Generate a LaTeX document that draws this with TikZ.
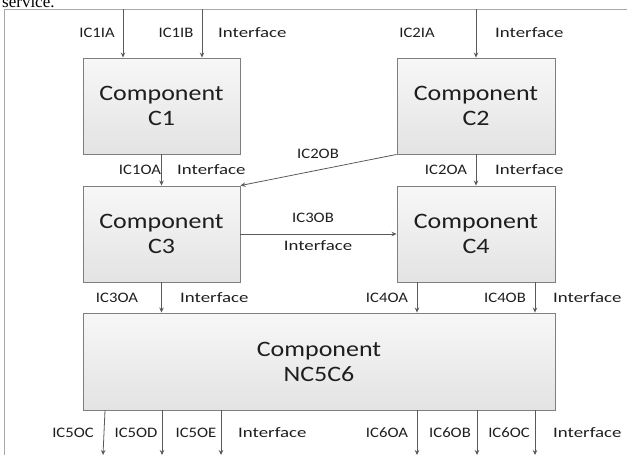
\documentclass[tikz,border=0pt]{standalone}
\usepackage{fontspec}
\setmainfont{Carlito}
\newfontfamily\portfont{Carlito}[FakeStretch=1.15]
\newfontfamily\ifacefont{Carlito}[FakeStretch=1.3]
\newfontfamily\compfont{Carlito}[FakeStretch=1.18]
\newfontfamily\bodyserif{Liberation Serif}
\usetikzlibrary{arrows.meta}
\definecolor{boxline}{HTML}{7F7F7F}
\definecolor{boxtop}{HTML}{F7F7F7}
\definecolor{boxbot}{HTML}{E3E3E3}
\definecolor{arrowc}{HTML}{5A5A5A}
\definecolor{framec}{HTML}{A8A8A8}
\definecolor{txt}{HTML}{1E1E1E}
\begin{document}
\begin{tikzpicture}[x=1pt,y=-1pt,
  comp/.style={draw=boxline, line width=0.9pt, top color=boxtop, bottom color=boxbot,
    minimum width=157pt, minimum height=96pt, inner sep=0pt, align=center,
    font=\compfont\fontsize{22}{25}\selectfont, text=txt},
  port/.style={font=\portfont\fontsize{14.5}{16}\selectfont, text=txt, inner sep=0pt},
  iface/.style={font=\ifacefont\fontsize{14.5}{16}\selectfont, text=txt, inner sep=0pt, anchor=west},
  flow/.style={draw=arrowc, line width=0.8pt, -{Stealth[length=5pt,width=4.5pt]}}
]
\useasboundingbox (0,0) rectangle (627,455);
\clip (0,0) rectangle (627,455);

% surrounding page text and frame
\node[font=\bodyserif\fontsize{17}{20}\selectfont, anchor=base west, inner sep=0pt] (svc) at (2,7) {service.};
\draw[framec, line width=0.9pt] (4,9) rectangle (660,490);

% components
\node[comp] (C1) at (161.5,106) {Component\\C1};
\node[comp, minimum width=158pt] (C2) at (476,106) {Component\\C2};
\node[comp] (C3) at (161.5,234) {Component\\C3};
\node[comp, minimum width=158pt] (C4) at (476,234) {Component\\C4};
\node[comp, minimum width=472pt, minimum height=97pt] (N) at (319,361.5) {Component\\NC5C6};

% inputs from the frame
\coordinate (t1a) at (123,9);
\coordinate (t1b) at (202,9);
\coordinate (t2a) at (476,9);
\draw[flow] (t1a) -- (C1.north -| t1a);
\draw[flow] (t1b) -- (C1.north -| t1b);
\draw[flow] (t2a) -- (C2.north -| t2a);

% links between components
\draw[flow] (C1.south) -- (C3.north);
\draw[flow] (C2.south) -- (C4.north);
\draw[flow] (C2.south west) -- (C3.north east);
\draw[flow] (C3.east) -- (C4.west);
\draw[flow] (C3.south) -- (N.north -| C3.south);
\coordinate (c4a) at ([xshift=-59pt]C4.south);
\coordinate (c4b) at ([xshift=59pt]C4.south);
\draw[flow] (c4a) -- (N.north -| c4a);
\draw[flow] (c4b) -- (N.north -| c4b);

% outputs
\coordinate (s5c) at (105,0);
\coordinate (e5c) at (103,455);
\coordinate (e5d) at (162,455);
\coordinate (e5e) at (221,455);
\coordinate (e6a) at (417,455);
\coordinate (e6b) at (477,455);
\coordinate (e6c) at (535,455);
\draw[flow] (N.south -| s5c) -- (e5c);
\draw[flow] (N.south -| e5d) -- (e5d);
\draw[flow] (N.south -| e5e) -- (e5e);
\draw[flow] (N.south -| e6a) -- (e6a);
\draw[flow] (N.south -| e6b) -- (e6b);
\draw[flow] (N.south -| e6c) -- (e6c);

% interface labels
\node[port] (l1ia) at (97,33) {IC1IA};
\node[port] (l1ib) at (176,33) {IC1IB};
\node[iface] (f1) at (218,33) {Interface};
\node[port] (l2ia) at (417,33) {IC2IA};
\node[iface] (f2) at (495,33) {Interface};

\node[port] (l1oa) at (140,170) {IC1OA};
\node[iface] (f3) at (177,170) {Interface};
\node[port] (l2ob) at (318,154) {IC2OB};
\node[port] (l2oa) at (446,170) {IC2OA};
\node[iface] (f4) at (495,170) {Interface};

\node[port] (l3ob) at (313,218) {IC3OB};
\node[iface, anchor=center] (f5) at (318,246) {Interface};

\node[port] (l3oa) at (117,298) {IC3OA};
\node[iface] (f6) at (180,298) {Interface};
\node[port] (l4oa) at (387,298) {IC4OA};
\node[port] (l4ob) at (505,298) {IC4OB};
\node[iface] (f7) at (553,298) {Interface};

\node[port] (l5oc) at (73,433) {IC5OC};
\node[port] (l5od) at (136,433) {IC5OD};
\node[port] (l5oe) at (196,433) {IC5OE};
\node[iface] (f8) at (238,433) {Interface};
\node[port] (l6oa) at (387,433) {IC6OA};
\node[port] (l6ob) at (450,433) {IC6OB};
\node[port] (l6oc) at (509,433) {IC6OC};
\node[iface] (f9) at (553,433) {Interface};
\end{tikzpicture}
\end{document}
